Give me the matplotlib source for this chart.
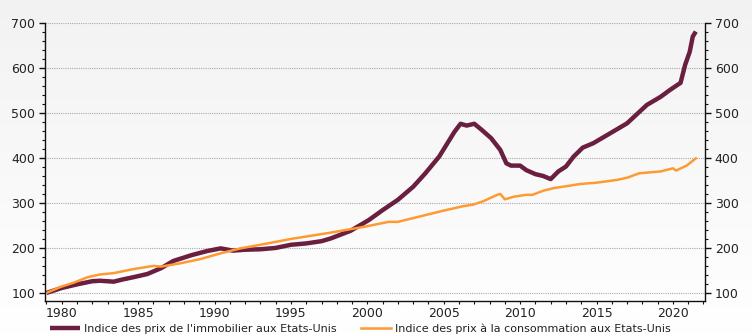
import numpy as np
import matplotlib.pyplot as plt
from matplotlib.ticker import MultipleLocator

# US house price index (1979 = 100)
house_years = [1979.0, 1980.0, 1981.0, 1982.0, 1982.5, 1983.4, 1984.0, 1984.7, 1985.6, 1986.5,
               1987.3, 1988.5, 1989.5, 1990.4, 1991.2, 1992.0, 1993.0, 1994.0, 1995.0, 1996.0,
               1997.0, 1997.6, 1998.9, 2000.1, 2001.0, 2002.0, 2003.0, 2003.8, 2004.7, 2005.3,
               2005.7, 2006.1, 2006.5, 2007.0, 2007.5, 2008.1, 2008.7, 2009.1, 2009.4, 2010.0,
               2010.4, 2011.0, 2011.5, 2012.0, 2012.5, 2013.0, 2013.5, 2014.1, 2014.8, 2015.9,
               2017.0, 2017.6, 2018.3, 2019.2, 2019.8, 2020.5, 2020.8, 2021.1, 2021.3, 2021.5]
house_index = [100, 111, 119, 126, 127, 125, 130, 135, 142, 155,
               171, 184, 193, 199, 194, 196, 197, 200, 207, 210,
               215, 221, 238, 262, 284, 307, 336, 366, 403, 436,
               458, 476, 472, 476, 462, 444, 418, 388, 383, 383,
               373, 364, 360, 353, 370, 381, 403, 423, 433, 455,
               477, 496, 518, 536, 551, 567, 607, 636, 670, 681]

# US consumer price index (1979 = 100)
cpi_years = [1979.0, 1979.9, 1980.8, 1981.7, 1982.5, 1983.4, 1984.7, 1986.0, 1986.5, 1987.8,
             1989.1, 1990.4, 1991.7, 1993.0, 1995.0, 1997.6, 1999.8, 2001.4, 2002.0, 2003.2,
             2005.0, 2006.3, 2006.9, 2007.6, 2008.5, 2008.7, 2009.0, 2009.6, 2010.4, 2010.8,
             2011.5, 2012.2, 2012.8, 2013.9, 2015.0, 2016.3, 2017.0, 2017.8, 2019.2, 2020.0,
             2020.2, 2020.9, 2021.5]
cpi_index = [100, 113, 123, 135, 141, 144, 153, 160, 158.5, 166,
             175.5, 188, 199, 207, 220, 234, 247, 258, 258, 268,
             283, 293, 296, 304, 318, 320, 308, 314, 318, 318,
             327, 333, 336, 342, 345, 351, 356, 366, 370, 377,
             372, 383, 399]

labels = ["Indice des prix de l'immobilier aux Etats-Unis",
          "Indice des prix à la consommation aux Etats-Unis"]

plt.rcParams['font.family'] = ['DejaVu Sans']
text_col = '#222222'

fig = plt.figure(figsize=(7.52, 3.34), dpi=100)

# soft vertical gradient behind everything
bg = fig.add_axes([0, 0, 1, 1], zorder=-1)
grad = np.linspace(0, 1, 256).reshape(-1, 1)
top_c = np.array([0.95, 0.95, 0.95])
bot_c = np.array([1.0, 1.0, 1.0])
img = top_c + (bot_c - top_c) * grad[..., None]
bg.imshow(img, aspect='auto', extent=[0, 1, 0, 1])
bg.axis('off')

ax = fig.add_axes([0.0598, 0.0988, 0.8777, 0.8323])
ax.set_facecolor('none')

ax.plot(house_years, house_index, color='#6b1f40', lw=3.2, solid_capstyle='butt', label=labels[0])
ax.plot(cpi_years, cpi_index, color='#ff9a33', lw=1.8, label=labels[1])

ax.set_xlim(1978.9, 2022.1)
ax.set_ylim(82, 700)

ax.yaxis.set_major_locator(MultipleLocator(100))
ax.yaxis.set_minor_locator(MultipleLocator(20))
ax.xaxis.set_major_locator(MultipleLocator(5))
ax.xaxis.set_minor_locator(MultipleLocator(1))
ax.set_yticks(range(100, 701, 100))

ax.grid(axis='y', which='major', color='#aaaaaa', ls=(0, (1, 1)), lw=0.8)
ax.set_axisbelow(True)

for s in ['left', 'right', 'bottom']:
    ax.spines[s].set_color('#111111')
    ax.spines[s].set_linewidth(1.0)
ax.spines['top'].set_visible(False)

ax.tick_params(axis='y', which='major', length=4, width=1, color='#111111',
               labelsize=9, labelcolor=text_col, left=True, right=True,
               labelleft=True, labelright=True, pad=3)
ax.tick_params(axis='y', which='minor', length=2.5, width=0.8, color='#111111',
               left=True, right=True)
ax.tick_params(axis='x', which='both', length=2.5, width=0.8, color='#111111',
               direction='out', labelsize=9, labelcolor=text_col, pad=2)

fig.legend(loc='lower left', bbox_to_anchor=(0.058, -0.02), ncol=2, frameon=False,
           fontsize=8, handlelength=2.7, handletextpad=0.35, columnspacing=2.2,
           labelcolor=text_col, borderaxespad=0.2)

fig.savefig('out.png', dpi=100)
